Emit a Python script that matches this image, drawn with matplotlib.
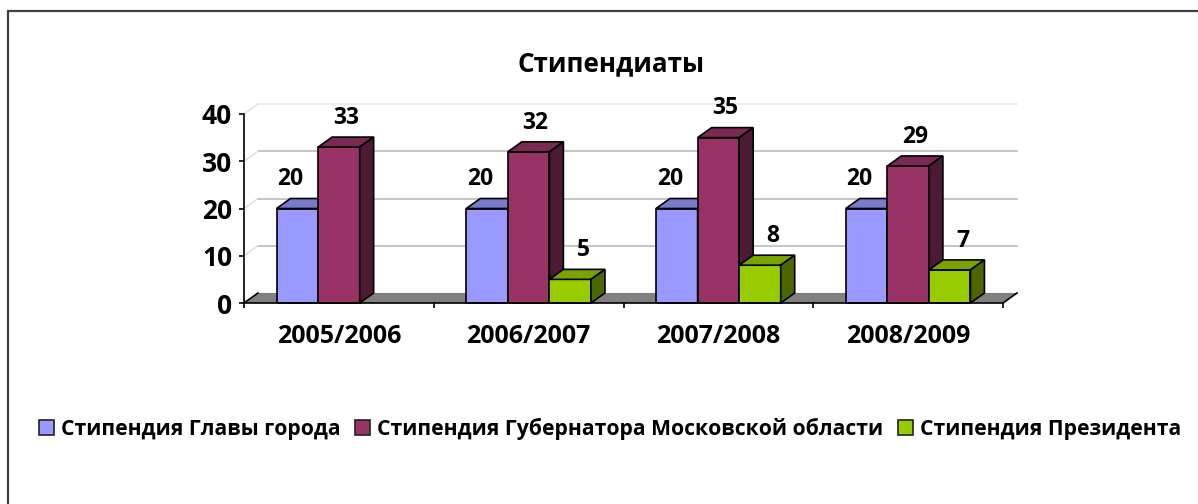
import matplotlib.pyplot as plt
from matplotlib.patches import Polygon, Rectangle, Patch
import numpy as np

plt.rcParams["font.family"] = ["Open Sans", "Noto Sans", "DejaVu Sans"]
plt.rcParams["font.weight"] = "bold"

# data
years = ["2005/2006", "2006/2007", "2007/2008", "2008/2009"]
series_names = [
    "Стипендия Главы города",
    "Стипендия Губернатора Московской области",
    "Стипендия Президента",
]
city_head = [20, 20, 20, 20]
governor = [33, 32, 35, 29]
president = [None, 5, 8, 7]
y_ticks = [0, 10, 20, 30, 40]

# colours: front, top, side
colors = [
    ("#9999FF", "#7A7ACC", "#4D4D80"),
    ("#993366", "#7A2952", "#4D1A33"),
    ("#99CC00", "#7AA300", "#4D6600"),
]
label_dx = [-5, 5, 9.5]  # points, data label nudges like Excel

W, H = 1198, 504
fig = plt.figure(figsize=(W / 100, H / 100), dpi=100)

# plot area in pixels: x 244..1003, value 0 at y=303, 40 at y=114
ax = fig.add_axes([244 / W, (H - 303) / H, 759 / W, 189 / H])
ax.set_xlim(0, len(years))
ax.set_ylim(0, 40)

px_x = len(years) / 759.0
px_y = 40 / 189.0
dx = 14 * px_x   # 3D depth, right
dy = 10 * px_y   # 3D depth, up

# back wall / side wall gridlines
for v in y_ticks[1:]:
    c = "#ececec" if v == y_ticks[-1] else "#c0c0c0"
    ax.plot([dx, len(years) + dx], [v + dy, v + dy], color=c, lw=1.3,
            clip_on=False, zorder=1)
    ax.plot([0, dx], [v, v + dy], color="#dddddd", lw=1.0,
            clip_on=False, zorder=1)
ax.plot([dx, len(years) + dx], [dy, dy], color="#d9d9d9", lw=1.0,
        clip_on=False, zorder=1)

# floor
n = len(years)
ax.add_patch(Polygon([(0, 0), (n, 0), (n + dx, dy), (dx, dy)],
                     closed=True, facecolor="#808080", edgecolor="none",
                     clip_on=False, zorder=2))
ax.plot([0, dx], [0, dy], color="black", lw=1.2, clip_on=False, zorder=2)
ax.plot([n, n + dx], [0, dy], color="black", lw=1.2, clip_on=False, zorder=2)

# bars
all_series = [city_head, governor, president]
bw = 0.219
gap = (1 - bw * len(all_series)) / 2
z = 3
for i in range(n):
    for j, vals in enumerate(all_series):
        v = vals[i]
        if v is None:
            continue
        front, top, side = colors[j]
        x0 = i + gap + j * bw
        x1 = x0 + bw
        kw = dict(closed=True, edgecolor="black", lw=1.2, clip_on=False,
                  joinstyle="miter")
        ax.add_patch(Polygon([(x0, 0), (x1, 0), (x1, v), (x0, v)],
                             facecolor=front, zorder=z, **kw))
        ax.add_patch(Polygon([(x0, v), (x1, v), (x1 + dx, v + dy),
                              (x0 + dx, v + dy)],
                             facecolor=top, zorder=z, **kw))
        ax.add_patch(Polygon([(x1, 0), (x1 + dx, dy), (x1 + dx, v + dy),
                              (x1, v)],
                             facecolor=side, zorder=z, **kw))
        z += 1
        ax.annotate(str(v), ((x0 + x1) / 2, v), xytext=(label_dx[j], 21),
                    textcoords="offset points", ha="center", va="center",
                    fontsize=16.5, fontweight="bold", zorder=20,
                    annotation_clip=False)

# axes look
for s in ["top", "right"]:
    ax.spines[s].set_visible(False)
ax.spines["left"].set_linewidth(1.2)
ax.spines["bottom"].set_linewidth(1.2)
ax.spines["left"].set_zorder(30)
ax.spines["bottom"].set_zorder(30)
ax.patch.set_visible(False)
ax.set_yticks(y_ticks)
ax.tick_params(axis="y", direction="out", length=3.6, width=1.2,
               labelsize=19, pad=5)
ax.set_xticks(np.arange(n) + 0.5)
ax.set_xticklabels(years)
ax.set_xticks(np.arange(n + 1), minor=True)
ax.tick_params(axis="x", which="major", length=0, labelsize=18, pad=15)
ax.tick_params(axis="x", which="minor", direction="out", length=3.6,
               width=1.2)
for lab in ax.get_xticklabels() + ax.get_yticklabels():
    lab.set_fontweight("bold")

# title
fig.text(611 / W, 1 - 64 / H, "Стипендиаты", ha="center", va="center",
         fontsize=18.7, fontweight="bold")

# legend
handles = [Patch(facecolor=c[0], edgecolor="#222222", lw=1.2) for c in colors]
fig.legend(handles, series_names, loc="center",
           bbox_to_anchor=(610 / W, 1 - 429 / H), ncol=3, frameon=False,
           handlelength=0.7, handleheight=0.7,
           handletextpad=0.33, columnspacing=0.7, borderpad=0,
           prop={"weight": "bold", "size": 15.2})

# chart border (only left and top edges fall inside the picture)
fig.add_artist(Rectangle((8 / W, -0.2), 1.5, 1.2 - 11 / H,
                         transform=fig.transFigure, fill=False,
                         edgecolor="#404040", lw=1.6))

fig.savefig("out.png", dpi=100, facecolor="white")
